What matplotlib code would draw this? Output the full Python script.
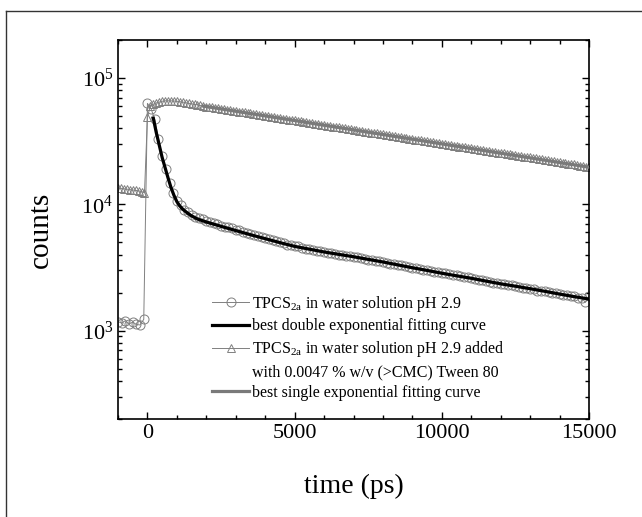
import numpy as np
import matplotlib
matplotlib.use("Agg")
import matplotlib.pyplot as plt
from matplotlib.lines import Line2D

plt.rcParams['font.family'] = ['Liberation Serif', 'DejaVu Serif']
plt.rcParams['mathtext.fontset'] = 'custom'
plt.rcParams['mathtext.rm'] = 'Liberation Serif'
plt.rcParams['mathtext.it'] = 'Liberation Serif:italic'
plt.rcParams['mathtext.bf'] = 'Liberation Serif:bold'

# --- data ---
# TPCS2a in water pH 2.9 (circles), sampled every 125 ps from -1000 ps
t_circ_start, t_circ_step = -1000, 125
counts_circ = [
    1180, 1150, 1200, 1130, 1170, 1120, 1110, 1230,
    63000, 57000, 47000, 33000, 24000, 19000, 14800, 12200,
    10600, 9800, 9100, 8700, 8250, 8000, 7800, 7600,
    7400, 7250, 7100, 6950, 6800, 6650, 6600, 6450,
    6300, 6250, 6050, 5950, 5850, 5700, 5650, 5500,
    5400, 5350, 5200, 5100, 5000, 4950, 4800, 4750,
    4650, 4650, 4550, 4450, 4450, 4350, 4300, 4250,
    4200, 4150, 4100, 4050, 4000, 3980, 3900, 3900,
    3850, 3800, 3730, 3700, 3650, 3620, 3550, 3530,
    3480, 3460, 3400, 3380, 3330, 3300, 3230, 3200,
    3160, 3130, 3070, 3050, 3000, 2990, 2930, 2920,
    2880, 2860, 2800, 2780, 2750, 2720, 2660, 2650,
    2620, 2580, 2540, 2520, 2480, 2450, 2400, 2380,
    2360, 2350, 2290, 2280, 2250, 2220, 2170, 2160,
    2150, 2120, 2080, 2060, 2050, 2010, 1980, 1970,
    1950, 1930, 1900, 1880, 1870, 1820, 1810, 1680,
    1880,
]

# TPCS2a pH 2.9 + Tween 80 (triangles), sampled every 100 ps from -1000 ps
t_tri_start, t_tri_step = -1000, 100
counts_tri = [
    13500, 13400, 13300, 13200, 13100, 13000, 12900, 12800, 12600, 12400,
    49000, 60500, 62000, 63500, 64500, 65500, 66000, 66000, 66000, 65800,
    65500, 65000, 64500, 63800, 63200, 62500, 62000, 61300, 60700, 60100,
    59500, 59100, 58500, 58200, 57600, 57200, 56600, 56300, 55700, 55200,
    54700, 54300, 53800, 53400, 52900, 52500, 52000, 51600, 51100, 50700,
    50200, 49800, 49400, 49000, 48500, 48100, 47700, 47300, 46900, 46500,
    46200, 45700, 45400, 44900, 44600, 44200, 43800, 43400, 43100, 42700,
    42400, 42000, 41700, 41300, 41000, 40600, 40300, 39900, 39600, 39300,
    39000, 38600, 38300, 38000, 37600, 37300, 37000, 36700, 36400, 36100,
    35800, 35500, 35200, 34900, 34600, 34300, 34000, 33700, 33400, 33200,
    32900, 32600, 32300, 32100, 31800, 31500, 31300, 31000, 30700, 30500,
    30200, 30000, 29700, 29500, 29200, 29000, 28700, 28500, 28200, 28000,
    27800, 27500, 27300, 27100, 26800, 26600, 26400, 26200, 25900, 25700,
    25500, 25300, 25100, 24900, 24700, 24500, 24300, 24100, 23900, 23700,
    23500, 23300, 23100, 22900, 22700, 22500, 22300, 22100, 21900, 21700,
    21600, 21400, 21200, 21000, 20800, 20700, 20500, 20300, 20100, 19900,
    19800,
]

# best double exponential fit (black)
t_fit2 = [200, 300, 400, 500, 600, 700, 800, 900, 1000, 1100, 1200, 1300,
          1400, 1500, 1700, 2000, 2500, 3000, 3500, 4000, 4500, 5000, 5500,
          6000, 6500, 7000, 7500, 8000, 8500, 9000, 9500, 10000, 10500,
          11000, 11500, 12000, 12500, 13000, 13500, 14000, 14500, 15000]
counts_fit2 = [48000, 37000, 29500, 23500, 19500, 16200, 13600, 11800,
               10500, 9700, 9150, 8750, 8400, 8100, 7650, 7250, 6700, 6200,
               5750, 5350, 4980, 4650, 4420, 4200, 4020, 3850, 3670, 3500,
               3320, 3150, 3000, 2850, 2720, 2600, 2470, 2350, 2250, 2150,
               2050, 1950, 1860, 1780]

# best single exponential fit (grey)
t_fit1 = [1900, 15000]
counts_fit1 = [60000, 19700]

labels = [r'TPCS$_{\mathrm{2a}}$ in water solution pH 2.9',
          'best double exponential fitting curve',
          r'TPCS$_{\mathrm{2a}}$ in water solution pH 2.9 added',
          'with 0.0047 % w/v (>CMC) Tween 80',
          'best single exponential fitting curve']

t_circ = t_circ_start + t_circ_step * np.arange(len(counts_circ))
t_tri = t_tri_start + t_tri_step * np.arange(len(counts_tri))

fig = plt.figure(figsize=(6.42, 5.17), dpi=100)
ax = fig.add_axes([118 / 642, 1 - 419 / 517, 471 / 642, 379 / 517])

grey = '#808080'
h1, = ax.plot(t_circ, counts_circ, '-', color=grey, lw=0.7, marker='o',
              ms=6.5, mfc='none', mec=grey, mew=0.7)
h3, = ax.plot(t_tri, counts_tri, '-', color=grey, lw=0.7, marker='^',
              ms=6, mfc='none', mec=grey, mew=0.7)
h2, = ax.plot(t_fit2, counts_fit2, '-', color='black', lw=2.3, zorder=4)
h5, = ax.plot(t_fit1, counts_fit1, '-', color='#7a7a7a', lw=2.3, zorder=4)
h4 = Line2D([], [], color='none')

ax.set_yscale('log')
ax.set_xlim(-1000, 15000)
ax.set_ylim(200, 200000)
ax.set_xticks([0, 5000, 10000, 15000])
ax.set_xticks(np.arange(-1000, 15001, 1000), minor=True)
ax.tick_params(which='both', direction='in', top=True, right=True,
               labelsize=16, width=1)
ax.tick_params(which='major', length=5)
ax.tick_params(which='minor', length=3)
for s in ax.spines.values():
    s.set_linewidth(1.2)

ax.set_xlabel('time (ps)', fontsize=20, labelpad=22)
ax.set_ylabel('counts', fontsize=21, labelpad=20)

ax.legend([h1, h2, h3, h4, h5], labels, loc='lower left',
          bbox_to_anchor=(0.17, 0.01), frameon=False, fontsize=11.5,
          handlelength=2.3, handletextpad=0.2, labelspacing=0.3,
          numpoints=1)

# thin frame around the figure (left and top edges)
fig.add_artist(Line2D([6 / 642, 6 / 642], [0, 1 - 11 / 517], color='#333333',
                      lw=1, transform=fig.transFigure))
fig.add_artist(Line2D([6 / 642, 1], [1 - 11 / 517, 1 - 11 / 517],
                      color='#333333', lw=1, transform=fig.transFigure))

fig.savefig('out.png', dpi=100)
